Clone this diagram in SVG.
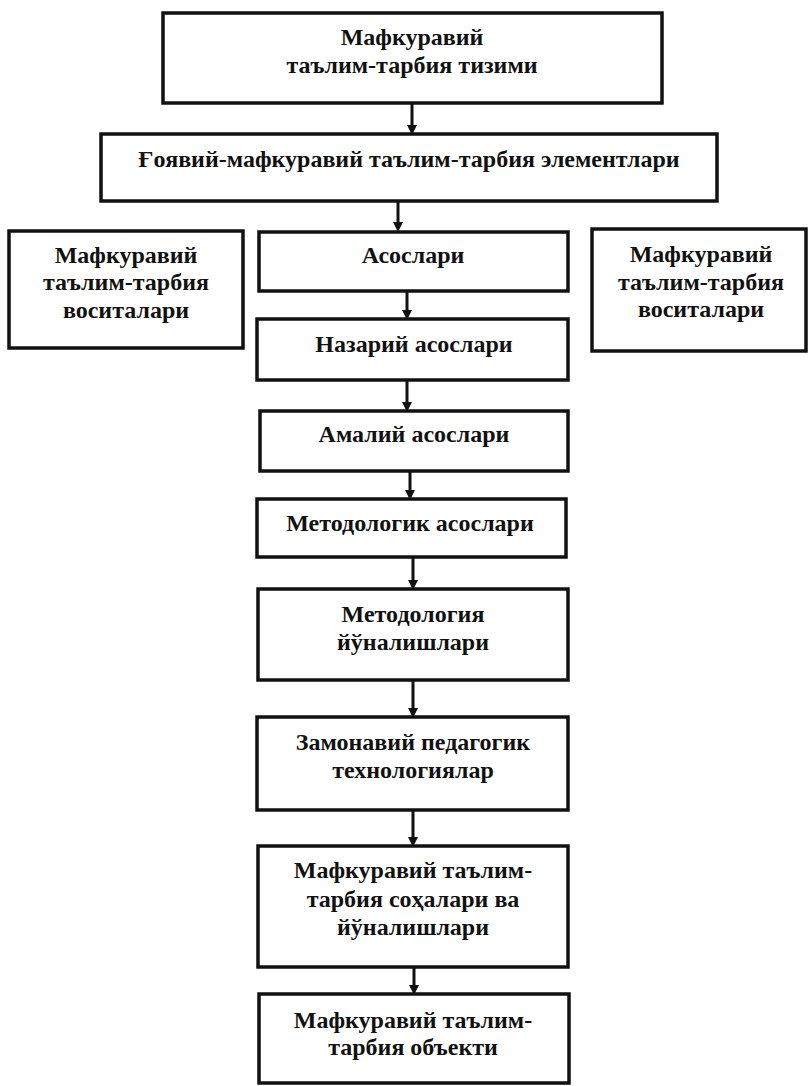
<svg xmlns="http://www.w3.org/2000/svg" width="809" height="1086" viewBox="0 0 809 1086">
<style>
.box{fill:#fff;stroke:#111;stroke-width:3.5}
.t{font-family:"Liberation Serif","Times New Roman",serif;font-weight:bold;font-size:24px;fill:#111;text-anchor:middle}
.c{stroke:#111;stroke-width:3;fill:none}
.ah{fill:#111}
</style>
<rect width="809" height="1086" fill="#fff"/>
<g id="connectors">
<path class="c" d="M412 103V126M398 201V223M407 291V311M407 380V403M410 471V491M413 557V581M413 680V709M413 810V838M414 967V986"/>
<g class="ah">
<path d="M407 125L417 125L412 135Z"/>
<path d="M393 222L403 222L398 232Z"/>
<path d="M402 310L412 310L407 320Z"/>
<path d="M402 402L412 402L407 412Z"/>
<path d="M405 490L415 490L410 500Z"/>
<path d="M408 580L418 580L413 590Z"/>
<path d="M408 708L418 708L413 718Z"/>
<path d="M408 837L418 837L413 847Z"/>
<path d="M409 985L419 985L414 995Z"/>
</g>
</g>
<g id="n1"><rect class="box" x="163" y="13" width="499" height="90"/>
<text class="t" x="412" y="45">Мафкуравий</text><text class="t" x="412" y="73">таълим-тарбия тизими</text></g>
<g id="n2"><rect class="box" x="101" y="134" width="616" height="67"/>
<text class="t" x="409" y="167">Ғоявий-мафкуравий таълим-тарбия элементлари</text></g>
<g id="n3"><rect class="box" x="9" y="231" width="234" height="117"/>
<text class="t" x="126" y="263">Мафкуравий</text><text class="t" x="126" y="290">таълим-тарбия</text><text class="t" x="126" y="318">воситалари</text></g>
<g id="n4"><rect class="box" x="259" y="232" width="309" height="59"/>
<text class="t" x="413" y="263">Асослари</text></g>
<g id="n5"><rect class="box" x="592" y="229" width="214" height="122"/>
<text class="t" x="701" y="262">Мафкуравий</text><text class="t" x="701" y="290">таълим-тарбия</text><text class="t" x="701" y="317">воситалари</text></g>
<g id="n6"><rect class="box" x="257" y="319" width="311" height="61"/>
<text class="t" x="414" y="352">Назарий асослари</text></g>
<g id="n7"><rect class="box" x="260" y="411" width="308" height="60"/>
<text class="t" x="414" y="442">Амалий асослари</text></g>
<g id="n8"><rect class="box" x="257" y="499" width="309" height="58"/>
<text class="t" x="410" y="531">Методологик асослари</text></g>
<g id="n9"><rect class="box" x="258" y="589" width="310" height="91"/>
<text class="t" x="413" y="622">Методология</text><text class="t" x="413" y="650">йўналишлари</text></g>
<g id="n10"><rect class="box" x="257" y="717" width="311" height="93"/>
<text class="t" x="413" y="750">Замонавий педагогик</text><text class="t" x="413" y="778">технологиялар</text></g>
<g id="n11"><rect class="box" x="258" y="846" width="310" height="121"/>
<text class="t" x="413" y="878">Мафкуравий таълим-</text><text class="t" x="413" y="907">тарбия соҳалари ва</text><text class="t" x="413" y="935">йўналишлари</text></g>
<g id="n12"><rect class="box" x="259" y="994" width="310" height="89"/>
<text class="t" x="413" y="1028">Мафкуравий таълим-</text><text class="t" x="413" y="1055">тарбия объекти</text></g>
</svg>
